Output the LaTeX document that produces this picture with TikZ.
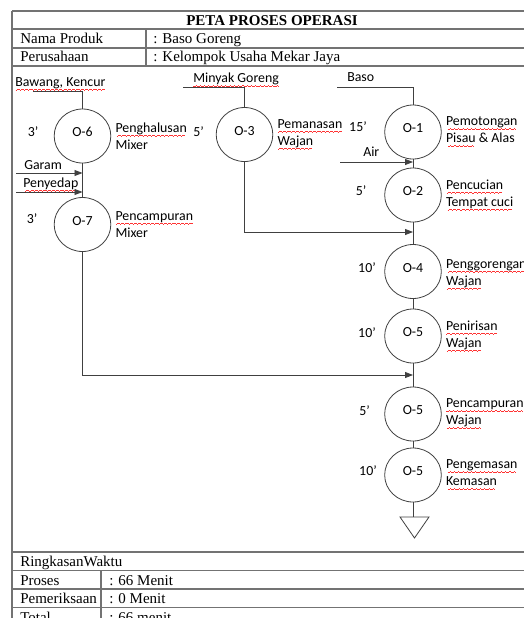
\documentclass[tikz,border=0pt]{standalone}
\usepackage{fontspec}
\setmainfont{Liberation Serif}
\newfontfamily\calib{Carlito}
\usetikzlibrary{shapes.geometric,arrows.meta,positioning}

% red wavy underline, as the spell check shows it
\newcommand\wavebit{\hbox{\rule[-3.1pt]{0.8pt}{0.45pt}\rule[-2.75pt]{0.8pt}{0.45pt}\rule[-2.4pt]{0.8pt}{0.45pt}\rule[-2.75pt]{0.8pt}{0.45pt}}}
\newcommand\spl[1]{\setbox0\hbox{#1}\rlap{\textcolor{red!80}{\hbox to\wd0{\cleaders\wavebit\hfil}}}#1}

\tikzset{
  cal/.style={font=\calib\fontsize{10.4}{12.75}\selectfont},
  op/.style={ellipse, draw=black!75, line width=0.6pt, minimum width=42.5pt,
    minimum height=40.5pt, inner sep=0pt, text depth=6pt, cal},
  lbl/.style={align=left, inner sep=0pt, cal},
  tm/.style={inner sep=0pt, cal},
  src/.style={anchor=base west, inner sep=0pt, cal},
  tbl/.style={draw=black!55, line width=1.1pt},
  txt/.style={anchor=base west, inner sep=0pt, font=\fontsize{11.25}{13}\selectfont},
  flow/.style={draw=black!75, line width=0.6pt},
  feed/.style={flow, -{Triangle[length=6pt,width=4.5pt]}}
}

\begin{document}
\begin{tikzpicture}[x=0.75pt,y=-0.75pt]
  \path[use as bounding box,clip] (0,0) rectangle (524,618);

  % header table
  \draw[tbl] (12,11) -- (540,11);
  \draw[tbl] (12,29) -- (540,29);
  \draw[tbl] (12,48) -- (540,48);
  \draw[tbl] (12,66) -- (540,66);
  \draw[tbl] (146,29) -- (146,66);
  \draw[tbl] (12,11) -- (12,630);
  \node[txt,anchor=base,font=\bfseries\fontsize{11.25}{13}\selectfont] (title) at (272,25) {PETA PROSES OPERASI};
  \node[txt] (np) at (20,43) {Nama Produk};
  \node[txt] (npv) at (153,43) {: Baso Goreng};
  \node[txt] (ps) at (20,61.5) {Perusahaan};
  \node[txt] (psv) at (153,61.5) {: Kelompok Usaha Mekar Jaya};

  % summary table
  \draw[tbl] (12,552) -- (540,552);
  \draw[tbl] (12,570.5) -- (540,570.5);
  \draw[tbl] (12,589) -- (540,589);
  \draw[tbl] (12,607.5) -- (540,607.5);
  \draw[tbl] (101,570.5) -- (101,630);
  \node[txt] (rw) at (20,566.5) {RingkasanWaktu};
  \node[txt] (pr) at (20,585) {Proses};
  \node[txt] (prv) at (109,585) {: 66 Menit};
  \node[txt] (pm) at (20,603.5) {Pemeriksaan};
  \node[txt] (pmv) at (109,603.5) {: 0 Menit};
  \node[txt] (tt) at (20,622) {Total};
  \node[txt] (ttv) at (109,622) {: 66 menit};

  % operations
  \node[op] (o6) at (82.5,136) {O-6};
  \node[op] (o7) at (82.5,224.5) {O-7};
  \node[op] (o3) at (244.5,134.5) {O-3};
  \node[op] (o1) at (413,132) {O-1};
  \node[op] (o2) at (413,195) {O-2};
  \node[op] (o4) at (413,271.5) {O-4};
  \node[op] (o5a) at (413,336) {O-5};
  \node[op] (o5b) at (413,414) {O-5};
  \node[op] (o5c) at (413,475) {O-5};

  % descriptions
  \node[lbl,right=3pt of o6] (d6) {\spl{Penghalusan}\\Mixer};
  \node[lbl,right=3pt of o7] (d7) {\spl{Pencampuran}\\Mixer};
  \node[lbl,right=3pt of o3] (d3) {\spl{Pemanasan}\\\spl{Wajan}};
  \node[lbl,right=3pt of o1] (d1) {\spl{Pemotongan}\\\spl{Pisau} \& Alas};
  \node[lbl,right=3pt of o2] (d2) {\spl{Pencucian}\\\spl{Tempat cuci}};
  \node[lbl,right=3pt of o4,yshift=-2pt] (d4) {\spl{Penggorengan}\\\spl{Wajan}};
  \node[lbl,right=3pt of o5a] (d5a) {\spl{Penirisan}\\\spl{Wajan}};
  \node[lbl,right=3pt of o5b] (d5b) {\spl{Pencampuran}\\\spl{Wajan}};
  \node[lbl,right=3pt of o5c] (d5c) {\spl{Pengemasan}\\\spl{Kemasan}};

  % times
  \node[tm] (t6) at (33,132) {3’};
  \node[tm] (t7) at (32,219) {3’};
  \node[tm] (t3) at (198.5,131.5) {5’};
  \node[tm] (t1) at (358,127) {15’};
  \node[tm] (t2) at (361,191) {5’};
  \node[tm] (t4) at (367,268) {10’};
  \node[tm] (t5a) at (367,333) {10’};
  \node[tm] (t5b) at (364.5,411) {5’};
  \node[tm] (t5c) at (368,471) {10’};

  % materials
  \node[src] (bk) at (15,86) {\spl{Bawang, Kencur}};
  \node[src] (mg) at (193,82.5) {\spl{Minyak Goreng}};
  \node[src] (bs) at (347,81.5) {Baso};
  \node[src] (gr) at (24,169) {Garam};
  \node[src] (py) at (23,187) {\spl{Penyedap}};
  \node[src] (ai) at (363,156.5) {Air};

  \coordinate (bkl) at (33,91);
  \coordinate (mgl) at (183,87);
  \coordinate (bsl) at (337,87);
  \coordinate (grl) at (16,173);
  \coordinate (pyl) at (16,192);
  \coordinate (ail) at (340,162);
  \coordinate (j1) at (413,232);
  \coordinate (j2) at (413,375);
  \coordinate (st) at (413,517);

  % connectors
  \draw[flow] (bkl) -| (o6);
  \draw[flow] (mgl) -| (o3);
  \draw[flow] (bsl) -| (o1);
  \draw[flow] (o6) -- (o7);
  \draw[feed] (grl) -- (grl -| o6.center);
  \draw[feed] (pyl) -- (pyl -| o6.center);
  \draw[feed] (ail) -- (ail -| o1.center);
  \draw[feed] (o3) |- (j1);
  \draw[feed] (o7) |- (j2);
  \draw[flow] (o1) -- (o2) -- (o4) -- (o5a) -- (o5b) -- (o5c) -- (st);

  % storage
  \draw[flow] (st) -- ++(16,0) -- ++(-14.5,21) -- ++(-14.5,-21) -- cycle;
\end{tikzpicture}
\end{document}
